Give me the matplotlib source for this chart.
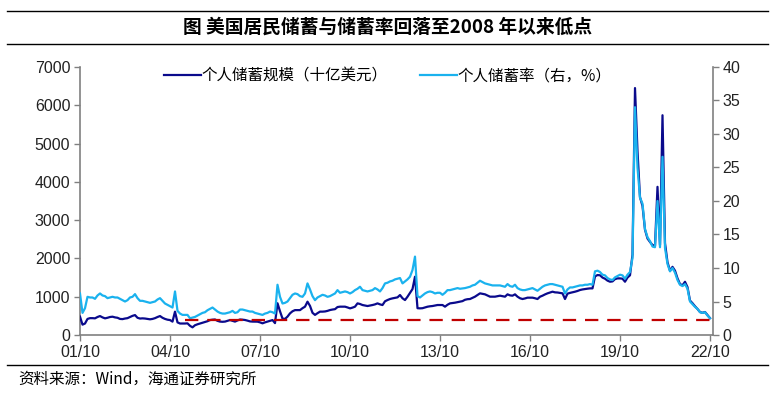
import numpy as np
import matplotlib
matplotlib.use("Agg")
import matplotlib.pyplot as plt
from matplotlib.lines import Line2D

plt.rcParams['font.family'] = ['Liberation Sans', 'Noto Sans CJK SC', 'DejaVu Sans']
CJK = ['Noto Sans CJK SC', 'DejaVu Sans']

# 月度数据：2001/10 至 2022/10
# 个人储蓄率（右轴，%）
saving_rate = [
    6.2, 3.3, 4.0, 5.7, 5.6, 5.6, 5.4, 5.9, 6.2, 5.9, 5.8, 5.5,
    5.6, 5.7, 5.6, 5.6, 5.4, 5.2, 5.0, 5.2, 5.6, 5.7, 6.1, 5.5,
    5.1, 5.1, 5.0, 4.9, 4.8, 4.9, 5.0, 5.3, 5.5, 5.1, 4.7, 4.5,
    4.3, 4.1, 6.5, 3.6, 3.2, 3.0, 3.0, 3.0, 2.5, 2.6, 2.7, 2.9,
    3.1, 3.3, 3.4, 3.7, 3.9, 4.1, 3.8, 3.5, 3.3, 3.2, 3.2, 3.3,
    3.4, 3.6, 3.3, 3.4, 3.8, 3.8, 3.7, 3.6, 3.5, 3.5, 3.3, 3.2,
    3.1, 3.0, 3.2, 3.3, 3.5, 3.4, 3.2, 7.5, 5.7, 4.7, 4.8, 5.0,
    5.5, 6.0, 6.2, 6.1, 5.8, 5.7, 6.2, 7.7, 6.8, 5.8, 5.2, 5.6,
    5.8, 6.0, 5.9, 5.7, 5.8, 6.0, 6.2, 6.7, 6.3, 6.4, 6.5, 6.4,
    6.2, 6.4, 6.7, 6.9, 7.2, 6.7, 6.6, 6.5, 6.6, 6.7, 7.0, 6.8,
    6.5, 7.0, 7.7, 7.8, 8.0, 8.1, 8.3, 8.4, 8.5, 7.7, 8.0, 8.3,
    8.7, 9.7, 11.7, 5.8, 5.6, 5.9, 6.2, 6.4, 6.5, 6.4, 6.2, 6.3,
    6.3, 6.0, 6.3, 6.7, 6.7, 6.8, 6.9, 7.0, 6.9, 6.95, 7.0, 7.1,
    7.2, 7.4, 7.5, 7.8, 8.1, 7.9, 7.7, 7.6, 7.5, 7.4, 7.4, 7.4,
    7.4, 7.3, 7.2, 7.6, 7.3, 7.2, 7.5, 7.0, 6.8, 6.7, 6.7, 6.8,
    6.9, 7.0, 6.8, 6.6, 6.9, 7.2, 7.4, 7.5, 7.6, 7.6, 7.5, 7.4,
    7.3, 7.2, 6.2, 6.8, 7.1, 7.1, 7.2, 7.3, 7.4, 7.4, 7.5, 7.5,
    7.6, 7.5, 9.5, 9.6, 9.4, 9.0, 8.9, 8.5, 8.3, 8.2, 8.6, 8.8,
    9.0, 8.9, 8.4, 9.0, 9.4, 11.5, 34.0, 25.0, 20.5, 19.6, 15.8, 14.6,
    14.0, 13.2, 13.1, 20.0, 13.1, 26.6, 13.0, 10.6, 9.5, 10.0, 9.3, 8.2,
    7.5, 7.3, 7.6, 6.9, 5.0, 4.6, 4.2, 3.9, 3.4, 3.3, 3.4, 2.9,
    2.5,
]

# 个人储蓄规模（十亿美元，左轴）
saving_level = [
    480, 270, 300, 420, 440, 440, 435, 470, 495, 460, 435, 450,
    470, 478, 460, 450, 420, 415, 430, 440, 470, 500, 520, 450,
    430, 435, 430, 420, 410, 420, 440, 470, 495, 450, 420, 400,
    390, 350, 610, 330, 300, 300, 300, 305, 240, 200, 255, 280,
    300, 320, 340, 360, 390, 400, 405, 370, 350, 345, 350, 370,
    390, 370, 350, 380, 405, 400, 392, 375, 355, 350, 350, 348,
    330, 305, 330, 350, 370, 390, 310, 830, 620, 430, 420, 480,
    565, 620, 650, 650, 650, 700, 740, 870, 760, 580, 525, 570,
    610, 610, 615, 630, 652, 665, 675, 730, 740, 740, 740, 720,
    696, 715, 740, 826, 810, 783, 770, 757, 770, 783, 800, 826,
    800, 783, 880, 913, 940, 957, 970, 983, 1044, 960, 913, 1000,
    1100, 1200, 1522, 700, 696, 700, 720, 739, 750, 757, 770, 783,
    783, 783, 740, 790, 826, 835, 844, 857, 870, 885, 920, 935,
    940, 970, 1001, 1045, 1088, 1075, 1062, 1030, 1001, 1001, 1001, 1015,
    1027, 1015, 1001, 1062, 1035, 1027, 1062, 1001, 960, 940, 955, 975,
    975, 975, 960, 940, 1000, 1027, 1060, 1088, 1110, 1131, 1114, 1110,
    1100, 1088, 940, 1080, 1100, 1115, 1131, 1150, 1175, 1190, 1201, 1210,
    1218, 1218, 1530, 1566, 1560, 1500, 1470, 1420, 1392, 1400, 1460, 1479,
    1479, 1470, 1392, 1500, 1560, 2100, 6450, 4800, 3600, 3370, 2750, 2520,
    2430, 2350, 2330, 3870, 2350, 5740, 2400, 1900, 1680, 1780, 1680, 1480,
    1330, 1300, 1390, 1250, 900, 830, 750, 680, 600, 580, 600, 520,
    440,
]

tick_labels = ["01/10", "04/10", "07/10", "10/10", "13/10", "16/10", "19/10", "22/10"]
low_level = 2.3          # 2008 年以来低点（右轴）
low_start = 42           # 虚线起点（月序号）

months = np.arange(len(saving_rate))

navy = "#0A0A8C"
sky = "#1AB2EE"
red = "#C00000"
grey = "#808080"

fig = plt.figure(figsize=(7.75, 3.93), dpi=100)
ax = fig.add_axes([80 / 775, 1 - 335 / 393, (713 - 80) / 775, (335 - 67) / 393])
ax2 = ax.twinx()

ax.plot(months, saving_level, color=navy, lw=1.6, zorder=3)
ax2.plot(months, saving_rate, color=sky, lw=1.6, zorder=3)
ax2.plot([low_start, months[-1]], [low_level, low_level], color=red, lw=1.6,
         dashes=(6, 4), zorder=4)

ax.set_xlim(0, 253.2)
ax.set_ylim(0, 7000)
ax2.set_ylim(0, 40)
ax.set_yticks(np.arange(0, 7001, 1000))
ax2.set_yticks(np.arange(0, 41, 5))
ax.set_xticks(np.arange(0, 253, 36))
ax.set_xticklabels(tick_labels)

for a in (ax, ax2):
    a.spines['top'].set_visible(False)
    for s in ('left', 'right', 'bottom'):
        a.spines[s].set_color(grey)
        a.spines[s].set_linewidth(1.2)
    a.tick_params(axis='both', direction='out', length=4, width=1,
                  color=grey, labelsize=11.5, labelcolor='#222222', pad=3)
ax.spines['right'].set_visible(False)
ax2.spines['left'].set_visible(False)
ax2.spines['bottom'].set_visible(False)

handles = [Line2D([], [], color=navy, lw=1.6), Line2D([], [], color=sky, lw=1.6)]
leg = ax.legend(handles, ["个人储蓄规模（十亿美元）", "个人储蓄率（右，%）"],
                loc='upper center', bbox_to_anchor=(0.486, 1.05), ncol=2,
                frameon=False, handlelength=2.35, handletextpad=0.05,
                columnspacing=2.1, prop={'family': CJK, 'size': 11.2})

# 标题与横线
fig.text(0.5, 1 - 27 / 393, "图 美国居民储蓄与储蓄率回落至2008 年以来低点",
         ha='center', va='center', fontsize=13.5, fontweight='bold', family=CJK)
for yy in (11, 44, 365):
    fig.add_artist(Line2D([7 / 775, 768 / 775], [1 - yy / 393, 1 - yy / 393],
                          color='black', lw=1.0))
fig.text(18 / 775, 1 - 379 / 393, "资料来源：Wind，海通证券研究所",
         ha='left', va='center', fontsize=11.2, family=CJK)

fig.savefig("out.png", dpi=100)
